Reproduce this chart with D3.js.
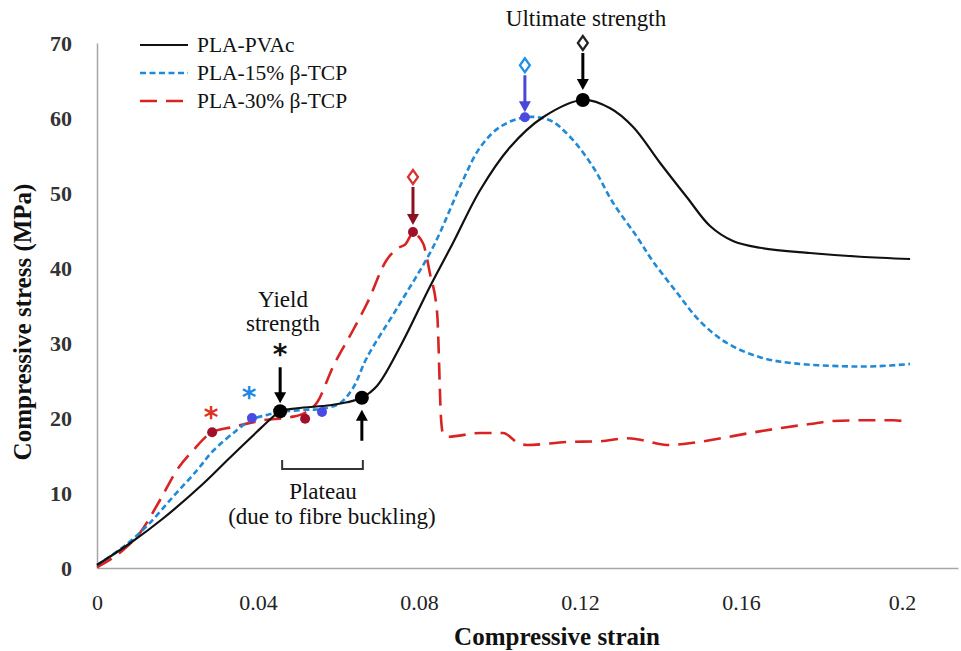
<!DOCTYPE html>
<html>
<head>
<meta charset="utf-8">
<script src="https://cdn.jsdelivr.net/npm/d3@7"></script>
<style>
  html, body { margin: 0; padding: 0; background: #fff; }
  svg { display: block; }
  svg text { font-family: "Liberation Serif", "Tinos", "Times New Roman", "DejaVu Serif", serif; }
</style>
</head>
<body>
<svg id="chart" width="961" height="651"></svg>
<script>
// ---- data ----
const strainTicks = [0, 0.04, 0.08, 0.12, 0.16, 0.2];
const strainTickLabels = ["0", "0.04", "0.08", "0.12", "0.16", "0.2"];
const stressTicks = [0, 10, 20, 30, 40, 50, 60, 70];

const seriesNames = ["PLA-PVAc", "PLA-15% \u03B2-TCP", "PLA-30% \u03B2-TCP"];

const pvacStrain = [0, 0.0082, 0.0164, 0.0263, 0.033, 0.0398, 0.043, 0.0455, 0.0497, 0.0579, 0.0621, 0.0658, 0.0696, 0.0753, 0.0827, 0.0884, 0.0952, 0.1026, 0.1108, 0.1207, 0.1275, 0.1332, 0.1399, 0.1466, 0.1523, 0.158, 0.1647, 0.1771, 0.1896, 0.202];
const pvacStress = [0.4, 3.3, 6.6, 11.2, 14.7, 18.2, 19.8, 20.9, 21.3, 21.7, 22.1, 22.7, 24.3, 29.5, 37.5, 43.3, 50.4, 56.1, 60.1, 62.4, 61.3, 58.8, 54.0, 49.4, 45.6, 43.6, 42.7, 42.0, 41.5, 41.2];

const tcp15Strain = [0, 0.0065, 0.0124, 0.0189, 0.0248, 0.0288, 0.0348, 0.0385, 0.0422, 0.0455, 0.0522, 0.0559, 0.0604, 0.0636, 0.0671, 0.0753, 0.0835, 0.0909, 0.0952, 0.1001, 0.1063, 0.1125, 0.1175, 0.1232, 0.1282, 0.1342, 0.1381, 0.1441, 0.1498, 0.1565, 0.1647, 0.1729, 0.1853, 0.1938, 0.202];
const tcp15Stress = [0.4, 2.8, 5.6, 9.5, 13.0, 15.6, 18.4, 19.8, 20.4, 20.8, 21.1, 21.2, 22.0, 24.0, 28.1, 35.3, 42.8, 51.7, 56.1, 58.8, 60.1, 59.7, 57.5, 53.5, 48.7, 44.1, 40.9, 36.7, 32.9, 30.0, 28.1, 27.3, 26.9, 26.9, 27.2];

const tcp30Strain = [0, 0.0065, 0.0107, 0.0157, 0.0199, 0.0239, 0.0286, 0.0338, 0.0412, 0.048, 0.0517, 0.0547, 0.0586, 0.0636, 0.0671, 0.072, 0.0753, 0.0765, 0.0785, 0.081, 0.0827, 0.0845, 0.0855, 0.0859, 0.0872, 0.0952, 0.1009, 0.1043, 0.1068, 0.1168, 0.125, 0.1317, 0.1349, 0.1416, 0.1481, 0.154, 0.1622, 0.1704, 0.1771, 0.1829, 0.1913, 0.1978, 0.2012];
const tcp30Stress = [0.1, 2.4, 4.7, 9.1, 13.1, 15.7, 18.1, 18.8, 19.7, 20.1, 20.7, 22.1, 26.8, 31.7, 35.3, 41.1, 42.8, 43.1, 44.6, 43.3, 39.3, 34.0, 19.7, 18.0, 17.5, 18.0, 18.0, 16.8, 16.4, 16.8, 16.9, 17.3, 17.1, 16.4, 16.7, 17.2, 18.0, 18.7, 19.2, 19.6, 19.7, 19.7, 19.5];

// marker points: yield, end of plateau, ultimate
const pvacMarkStrain = [0.0455, 0.0658, 0.1207];
const pvacMarkStress = [20.9, 22.7, 62.4];
const tcp15MarkStrain = [0.0385, 0.0559, 0.1063];
const tcp15MarkStress = [20.0, 20.8, 60.1];
const tcp30MarkStrain = [0.0286, 0.0517, 0.0785];
const tcp30MarkStress = [18.1, 19.9, 44.8];

// ---- chart ----
const svg = d3.select("#chart");
const x = d3.scaleLinear().domain([0, 0.2139]).range([97, 958]);
const y = d3.scaleLinear().domain([0, 70]).range([568, 43]);

// axes
const xAxis = d3.axisBottom(x).tickValues(strainTicks)
  .tickFormat((d, i) => strainTickLabels[i]).tickSize(0).tickSizeOuter(0).tickPadding(26);
const gx = svg.append("g").attr("transform", "translate(0,568)").call(xAxis);
gx.attr("font-family", null);
gx.select(".domain").attr("stroke", "#a6a6a6").attr("stroke-width", 1.5);
gx.selectAll("text").attr("font-size", 22).attr("fill", "#222");

const yAxis = d3.axisLeft(y).tickValues(stressTicks).tickSize(0).tickSizeOuter(0).tickPadding(25);
const gy = svg.append("g").attr("transform", "translate(97,0)").call(yAxis);
gy.attr("font-family", null);
gy.select(".domain").attr("stroke", "#a6a6a6").attr("stroke-width", 1.5);
gy.selectAll("text").attr("font-size", 22).attr("font-weight", "bold").attr("fill", "#333");

// axis titles
svg.append("text").attr("x", 557).attr("y", 645).attr("text-anchor", "middle")
  .attr("font-size", 25).attr("font-weight", "bold").attr("fill", "#111")
  .text("Compressive strain");
svg.append("text").attr("transform", "translate(31,322) rotate(-90)").attr("text-anchor", "middle")
  .attr("font-size", 25).attr("font-weight", "bold").attr("fill", "#111")
  .text("Compressive stress (MPa)");

// lines
const zip = (a, b) => a.map((v, i) => [v, b[i]]);
const smoothLine = d3.line().x(d => x(d[0])).y(d => y(d[1])).curve(d3.curveCatmullRom.alpha(0.5));
const monoLine = d3.line().x(d => x(d[0])).y(d => y(d[1])).curve(d3.curveMonotoneX);

const series = [
  { name: seriesNames[0], data: zip(pvacStrain, pvacStress), color: "#111", width: 2.2, dash: null, gen: smoothLine },
  { name: seriesNames[1], data: zip(tcp15Strain, tcp15Stress), color: "#1f8ad8", width: 2.6, dash: "6,3.5", gen: smoothLine },
  { name: seriesNames[2], data: zip(tcp30Strain, tcp30Stress), color: "#d92323", width: 2.6, dash: "17,9", gen: monoLine }
];

series.slice().reverse().forEach(s => {
  svg.append("path").datum(s.data).attr("d", s.gen).attr("fill", "none")
    .attr("stroke", s.color).attr("stroke-width", s.width)
    .attr("stroke-dasharray", s.dash).attr("stroke-linejoin", "round");
});

// markers
const markers = [
  { pts: zip(tcp30MarkStrain, tcp30MarkStress), color: "#a0102a", r: 5 },
  { pts: zip(tcp15MarkStrain, tcp15MarkStress), color: "#4a4ae0", r: 5 },
  { pts: zip(pvacMarkStrain, pvacMarkStress), color: "#000", r: 7 }
];
markers.forEach(m => {
  svg.append("g").selectAll("circle").data(m.pts).join("circle")
    .attr("cx", d => x(d[0])).attr("cy", d => y(d[1])).attr("r", m.r).attr("fill", m.color);
});

// arrow helper
function arrow(cx, y1, y2, color) {
  const dir = y2 > y1 ? 1 : -1;
  svg.append("line").attr("x1", cx).attr("x2", cx).attr("y1", y1).attr("y2", y2 - dir * 8)
    .attr("stroke", color).attr("stroke-width", 3);
  svg.append("path")
    .attr("d", `M${cx - 6},${y2 - dir * 11} L${cx + 6},${y2 - dir * 11} L${cx},${y2} Z`)
    .attr("fill", color);
}
function diamond(cx, cy, color) {
  svg.append("path").attr("d", `M${cx},${cy - 7} L${cx + 5},${cy} L${cx},${cy + 7} L${cx - 5},${cy} Z`)
    .attr("fill", "#fff").attr("stroke", color).attr("stroke-width", 2.2);
}
function star(cx, cy, color) {
  svg.append("text").attr("x", cx).attr("y", cy + 13).attr("text-anchor", "middle")
    .style("font-family", "'DejaVu Sans', sans-serif").attr("font-size", 28).attr("font-weight", "bold")
    .attr("fill", color).text("*");
}

// ultimate strength annotations
const ultB = [x(pvacMarkStrain[2]), y(pvacMarkStress[2])];
const ultT15 = [x(tcp15MarkStrain[2]), y(tcp15MarkStress[2])];
const ultT30 = [x(tcp30MarkStrain[2]), y(tcp30MarkStress[2])];
diamond(ultB[0], ultB[1] - 57, "#222");
arrow(ultB[0], ultB[1] - 47, ultB[1] - 10, "#000");
diamond(ultT15[0], ultT15[1] - 52, "#1e90e8");
arrow(ultT15[0], ultT15[1] - 42, ultT15[1] - 5, "#4848d8");
diamond(ultT30[0], ultT30[1] - 55, "#d83030");
arrow(ultT30[0], ultT30[1] - 45, ultT30[1] - 7, "#8b1020");

svg.append("text").attr("x", 586).attr("y", 26).attr("text-anchor", "middle")
  .attr("font-size", 23).attr("fill", "#111").text("Ultimate strength");

// yield annotations
const yB = [x(pvacMarkStrain[0]), y(pvacMarkStress[0])];
star(yB[0], yB[1] - 60, "#111");
arrow(yB[0], yB[1] - 44, yB[1] - 8, "#000");
star(x(tcp15MarkStrain[0]) - 3, y(tcp15MarkStress[0]) - 24, "#1e88e5");
star(x(tcp30MarkStrain[0]) - 1, y(tcp30MarkStress[0]) - 18, "#e03020");

svg.append("text").attr("x", 283).attr("y", 307).attr("text-anchor", "middle")
  .attr("font-size", 23).attr("fill", "#111").text("Yield");
svg.append("text").attr("x", 283).attr("y", 331).attr("text-anchor", "middle")
  .attr("font-size", 23).attr("fill", "#111").text("strength");

// plateau end arrow (pointing up)
const pE = [x(pvacMarkStrain[1]), y(pvacMarkStress[1])];
arrow(pE[0], pE[1] + 43, pE[1] + 12, "#000");

// plateau bracket
const bx1 = x(pvacMarkStrain[0]) + 2, bx2 = x(pvacMarkStrain[1]) + 1;
svg.append("path").attr("d", `M${bx1},460 L${bx1},469 L${bx2},469 L${bx2},460`)
  .attr("fill", "none").attr("stroke", "#333").attr("stroke-width", 2);
svg.append("text").attr("x", 323).attr("y", 499).attr("text-anchor", "middle")
  .attr("font-size", 23).attr("fill", "#111").text("Plateau");
svg.append("text").attr("x", 332).attr("y", 524).attr("text-anchor", "middle")
  .attr("font-size", 23).attr("fill", "#111").text("(due to fibre buckling)");

// legend
const legend = svg.append("g");
series.forEach((s, i) => {
  const ly = 45 + i * 28;
  legend.append("line").attr("x1", 140).attr("x2", 188).attr("y1", ly).attr("y2", ly)
    .attr("stroke", s.color).attr("stroke-width", s.width).attr("stroke-dasharray", s.dash);
  legend.append("text").attr("x", 197).attr("y", ly + 7)
    .attr("font-size", 21.5).attr("fill", "#111").text(s.name);
});
</script>
</body>
</html>
